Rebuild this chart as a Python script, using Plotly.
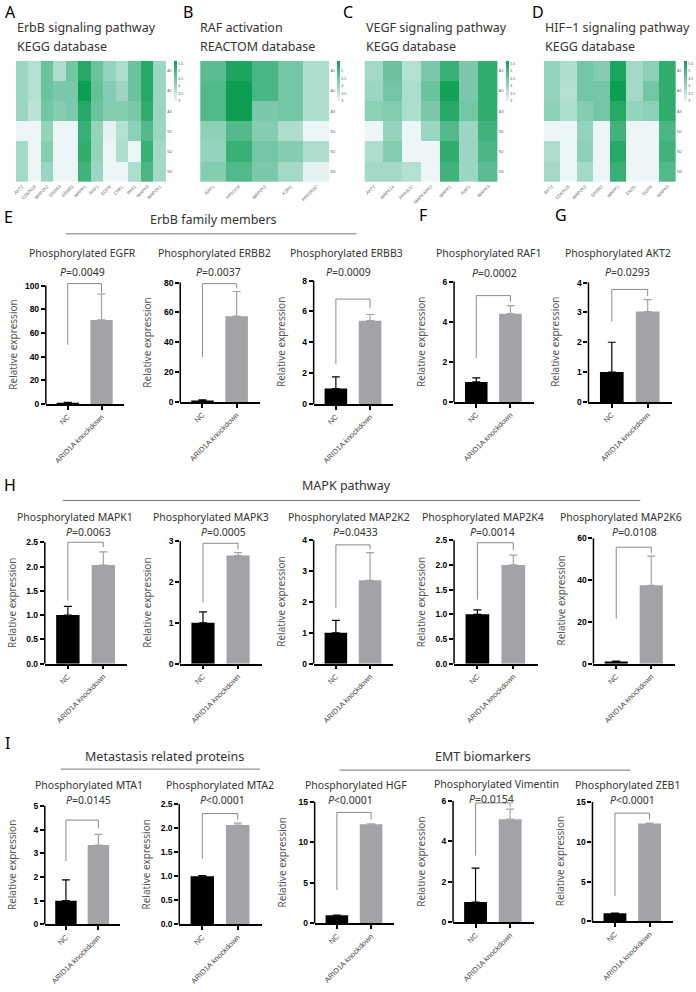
import plotly.graph_objects as go

W, H = 696, 992
def fx(p): return p / W
def fy(p): return 1 - p / H

TXT = "Noto Sans"
NUM = "Liberation Sans"

# ---------------- heatmap data ----------------
hm_rows = ["A1", "A2", "A3", "N1", "N2", "N3"]

hmA_genes = ["AKT2", "CDKN1B", "MAP2K2", "ERBB3", "ERBB2", "MAPK1", "RAF1", "EGFR", "CRKL", "PAK1", "MAPK3", "MAP2K1"]
hmA_z = [
    [4.0, 3.7, 4.6, 3.8, 4.5, 5.4, 4.6, 4.1, 3.8, 4.6, 5.4, 4.0],
    [4.0, 3.7, 4.6, 4.4, 4.4, 5.7, 4.7, 4.3, 4.0, 4.6, 5.4, 4.0],
    [4.0, 3.6, 4.5, 4.3, 4.4, 5.4, 4.6, 4.3, 4.3, 4.4, 5.3, 4.0],
    [3.0, 3.0, 4.1, 3.0, 3.0, 5.2, 4.1, 3.1, 3.7, 4.2, 4.9, 4.0],
    [3.9, 3.0, 4.3, 3.0, 3.0, 5.3, 4.1, 3.0, 3.8, 3.0, 5.2, 3.9],
    [3.9, 3.0, 4.0, 3.0, 3.0, 5.1, 4.0, 3.0, 3.0, 3.8, 5.0, 3.9],
]
hmB_genes = ["RAF1", "PPP2CB", "MAP2K2", "KSR1", "PPP2R5C"]
hmB_z = [
    [4.8, 5.5, 5.0, 4.5, 3.8],
    [4.9, 5.7, 5.0, 4.5, 3.8],
    [4.9, 5.7, 4.4, 4.5, 3.8],
    [4.2, 4.9, 4.3, 3.8, 3.0],
    [4.1, 5.2, 4.5, 4.3, 3.8],
    [4.3, 4.9, 4.4, 3.9, 3.1],
]
hmC_genes = ["AKT2", "MAPK14", "PPP3CC", "MAPKAPK2", "MAPK1", "RAF1", "MAPK3"]
hmC_z = [
    [3.9, 4.6, 3.7, 4.4, 5.2, 4.4, 5.3],
    [4.0, 4.5, 3.8, 4.6, 5.6, 4.4, 5.3],
    [4.2, 4.3, 3.8, 4.4, 5.4, 4.5, 5.3],
    [3.0, 4.1, 3.0, 4.0, 4.9, 4.0, 5.1],
    [3.8, 4.3, 3.0, 3.0, 5.3, 4.0, 5.0],
    [3.9, 3.9, 3.7, 3.0, 5.1, 4.0, 4.8],
]
hmD_genes = ["AKT2", "CDKN1B", "MAP2K2", "ERBB2", "MAPK1", "ENO1", "EGFR", "MAPK3"]
hmD_z = [
    [4.1, 3.8, 4.5, 4.3, 5.5, 3.9, 4.2, 5.3],
    [4.1, 3.7, 4.5, 4.5, 5.7, 3.9, 4.5, 5.3],
    [4.2, 3.8, 4.3, 4.5, 5.4, 4.1, 4.2, 5.3],
    [3.0, 3.0, 4.1, 3.0, 5.1, 3.0, 3.0, 5.0],
    [3.8, 3.0, 4.2, 3.0, 5.4, 3.0, 3.0, 5.1],
    [3.9, 3.0, 3.9, 3.0, 5.2, 3.0, 3.0, 4.9],
]
hm_title1 = ["ErbB signaling pathway", "RAF activation", "VEGF signaling pathway", "HIF\u22121 signaling pathway"]
hm_title2 = ["KEGG database", "REACTOM database", "KEGG database", "KEGG database"]
hm_cbticks = [[3, 3.5, 4, 4.5, 5, 5.5], [3, 3.5, 4, 4.5, 5], [3, 3.5, 4, 4.5, 5, 5.5], [3, 3.5, 4, 4.5, 5, 5.5]]

# ---------------- bar data ----------------
groups = ["NC", "ARID1A knockdown"]
bar_genes = ["EGFR", "ERBB2", "ERBB3", "RAF1", "AKT2",
             "MAPK1", "MAPK3", "MAP2K2", "MAP2K4", "MAP2K6",
             "MTA1", "MTA2", "HGF", "Vimentin", "ZEB1"]
nc_mean = [1.0, 1.0, 1.0, 1.0, 1.0, 1.0, 1.0, 1.0, 1.0, 1.0, 1.0, 1.0, 1.0, 1.0, 1.0]
nc_err = [0.3, 0.4, 0.75, 0.2, 1.0, 0.18, 0.27, 0.4, 0.09, 0.2, 0.88, 0.01, 0.03, 1.68, 0.03]
kd_mean = [71, 57.5, 5.4, 4.4, 3.03, 2.03, 2.65, 2.7, 2.0, 37.5, 3.35, 2.06, 12.25, 5.1, 12.3]
kd_err = [22, 16.5, 0.4, 0.4, 0.4, 0.27, 0.07, 0.9, 0.2, 14, 0.45, 0.04, 0.05, 0.5, 0.05]
p_text = ["=0.0049", "=0.0037", "=0.0009", "=0.0002", "=0.0293",
          "=0.0063", "=0.0005", "=0.0433", "=0.0014", "=0.0108",
          "=0.0145", "<0.0001", "<0.0001", "=0.0154", "<0.0001"]
y_max = [100, 80, 8, 6, 4, 2.5, 3, 4, 2.5, 60, 5, 2.5, 15, 6, 15]
y_dtick = [20, 20, 2, 2, 1, 0.5, 1, 1, 0.5, 20, 1, 0.5, 5, 2, 5]
br_top = [101.7, 79.3, 6.8, 5.3, 3.77, 2.5, 2.95, 3.85, 2.45, 55.7, 4.4, 2.3, 13.7, 5.9, 13.6]
br_left = [50, 30, 2.6, 2.2, 2.7, 1.3, 1.5, 1.8, 1.3, 21.5, 2.67, 1.36, 4.1, 3.3, 3.2]
br_right = [94, 76, 6.2, 5.0, 3.55, 2.4, 2.8, 3.7, 2.3, 53, 4.05, 2.17, 12.8, 5.7, 12.8]

sections = ["ErbB family members", "MAPK pathway", "Metastasis related proteins", "EMT biomarkers"]

# ---------------- layout positions (pixels) ----------------
hm_box = [(13, 164, 172), (198, 328, 335), (363, 497, 505), (543, 676, 684)]
hm_title_x = [13, 197, 364, 543]
bar_box = [(43, 122, 406, 287), (178, 258, 404, 284), (312, 392, 406, 282), (453, 533, 404, 283), (588, 672, 404, 284),
           (42, 125, 667, 545), (178, 260, 667, 544), (312, 392, 667, 543), (453, 537, 667, 543), (593, 675, 667, 541),
           (42, 118, 929, 810), (177, 260, 929, 808), (313, 393, 928, 806), (452, 533, 927, 805), (592, 673, 926, 806)]
title_xy = [(80, 254), (212, 254), (345, 254), (488, 254), (618, 254),
            (72.5, 520), (209, 520), (347, 520), (482.5, 520), (621, 520),
            (86, 789), (217.5, 789), (355, 789), (496, 788), (627, 789)]
p_xy = [(80, 273), (216, 273), (347, 273), (494, 274), (627.5, 273),
        (86, 535), (221, 535), (354, 535), (492, 535), (634, 535),
        (86, 804), (220, 804), (349, 804), (491, 803), (632, 804)]
section_pos = [(211, 221, 63, 355, 235), (345, 488, 60, 640, 503), (162, 760, 58, 258, 773), (482, 760, 338, 630, 774)]
letters = [("A", 1, 12), ("B", 180, 12), ("C", 340, 12), ("D", 530, 12), ("E", 0, 218), ("F", 417, 216),
           ("G", 553, 216), ("H", 0, 487), ("I", 1, 747)]

green = [[0, 'rgb(236,246,246)'], [0.35, 'rgb(160,216,198)'], [0.65, 'rgb(95,190,148)'], [1, 'rgb(12,158,82)']]

fig = go.Figure()
L = dict(width=W, height=H, margin=dict(l=0, r=0, t=0, b=0), paper_bgcolor='white',
         plot_bgcolor='white', showlegend=False, barmode='overlay')
shapes, ann = [], []

def names(n):
    s = '' if n == 1 else str(n)
    return 'x' + s, 'y' + s, 'xaxis' + s, 'yaxis' + s

def note(text, x, y, size, color='#333', xanchor='center', angle=0):
    ann.append(dict(text=text, x=fx(x), y=fy(y), xref='paper', yref='paper', xanchor=xanchor,
                    yanchor='middle', showarrow=False, borderpad=0, textangle=angle,
                    font=dict(family=TXT, size=size, color=color)))

n = 0
for i, (genes, z) in enumerate([(hmA_genes, hmA_z), (hmB_genes, hmB_z), (hmC_genes, hmC_z), (hmD_genes, hmD_z)]):
    n += 1
    xn, yn, xk, yk = names(n)
    x0, x1, cbx = hm_box[i]
    fig.add_trace(go.Heatmap(
        z=z, x=genes, y=hm_rows, xaxis=xn, yaxis=yn, colorscale=green, zmin=3, zmax=5.7,
        colorbar=dict(x=fx(cbx), xanchor='left', y=fy(61), yanchor='top', len=40, lenmode='pixels',
                      thickness=3, thicknessmode='pixels', outlinewidth=0, tickvals=hm_cbticks[i],
                      tickfont=dict(size=3.6, color='#555', family=NUM), ticks='', xpad=0, ypad=0)))
    L[xk] = dict(domain=[fx(x0), fx(x1)], anchor=yn, tickangle=-45, showgrid=False, zeroline=False,
                 ticks='', showline=False, tickfont=dict(size=4.5, color='#666', family=NUM))
    L[yk] = dict(domain=[fy(183), fy(61)], anchor=xn, side='right', autorange='reversed', showgrid=False,
                 zeroline=False, ticks='', tickfont=dict(size=3.8, color='#666', family=NUM))
    note(hm_title1[i], hm_title_x[i], 28, 12.5, xanchor='left')
    note(hm_title2[i], hm_title_x[i], 47, 12.5, xanchor='left')

GRAY = 'rgb(162,162,167)'
for i in range(len(bar_genes)):
    n += 1
    xn, yn, xk, yk = names(n)
    x0, x1, y0, y1 = bar_box[i]
    top = max(br_top[i], kd_mean[i] + kd_err[i], y_max[i]) * 1.04
    ytop_px = y0 - (y0 - y1) * top / y_max[i]
    fig.add_trace(go.Bar(x=[groups[0]], y=[nc_mean[i]], width=[0.66], xaxis=xn, yaxis=yn,
                         marker=dict(color='black', line=dict(width=0)),
                         error_y=dict(type='data', array=[nc_err[i]], arrayminus=[0], symmetric=False,
                                      color='black', thickness=1.2, width=4)))
    fig.add_trace(go.Bar(x=[groups[1]], y=[kd_mean[i]], width=[0.66], xaxis=xn, yaxis=yn,
                         marker=dict(color=GRAY, line=dict(width=0)),
                         error_y=dict(type='data', array=[kd_err[i]], arrayminus=[0], symmetric=False,
                                      color=GRAY, thickness=1.2, width=4)))
    nt = int(round(y_max[i] / y_dtick[i]))
    tv = [k * y_dtick[i] for k in range(nt + 1)]
    tt = [f"{v:.1f}" if y_dtick[i] < 1 else f"{int(v)}" for v in tv]
    L[xk] = dict(domain=[fx(x0), fx(x1)], anchor=yn, type='category', categoryorder='array',
                 categoryarray=groups, range=[-0.65, 1.68], showline=True, linecolor='black', linewidth=1.5,
                 ticks='outside', ticklen=4, tickwidth=1.5, tickcolor='black', tickangle=-45,
                 tickfont=dict(size=7.4, color='#444', family=NUM), showgrid=False, zeroline=False)
    L[yk] = dict(domain=[fy(y0), fy(ytop_px)], anchor=xn, range=[0, top], showline=False,
                 ticks='outside', ticklen=4, tickwidth=1.5, tickcolor='black', tickvals=tv, ticktext=tt,
                 tickfont=dict(size=8.5, color='black', family=NUM, weight='bold'),
                 showgrid=False, zeroline=False)
    shapes.append(dict(type='line', xref=xn + ' domain', yref=yn, x0=0, x1=0, y0=0, y1=y_max[i],
                       line=dict(color='black', width=1.5)))
    bc = dict(color='#8a8a8a', width=1)
    shapes.append(dict(type='line', xref=xn, yref=yn, x0=0, x1=0, y0=br_left[i], y1=br_top[i], line=bc))
    shapes.append(dict(type='line', xref=xn, yref=yn, x0=0, x1=1, y0=br_top[i], y1=br_top[i], line=bc))
    shapes.append(dict(type='line', xref=xn, yref=yn, x0=1, x1=1, y0=br_right[i], y1=br_top[i], line=bc))
    tx, ty = title_xy[i]
    note("Phosphorylated " + bar_genes[i], tx, ty, 10.5)
    px_, py_ = p_xy[i]
    note("<i>P</i>" + p_text[i], px_, py_, 10.5)
    note("Relative expression", x0 - 33, (y0 + y1) / 2, 10, color='#555', angle=-90)

for (label, (cx, cy, lx0, lx1, ly)) in zip(sections, section_pos):
    note(label, cx, cy, 12.5)
    shapes.append(dict(type='line', xref='paper', yref='paper', x0=fx(lx0), x1=fx(lx1), y0=fy(ly), y1=fy(ly),
                       line=dict(color='#777', width=1)))

for (t, lx, ly) in letters:
    note(t, lx, ly, 16, color='black', xanchor='left')

L['shapes'] = shapes
L['annotations'] = ann
fig.update_layout(**L)
fig.write_html("out.html", config={'displayModeBar': False}, post_script=(
    "document.body.style.margin='0';document.body.style.padding='0';"
    "document.body.style.overflow='hidden';"
    "document.documentElement.style.overflow='hidden';"))
